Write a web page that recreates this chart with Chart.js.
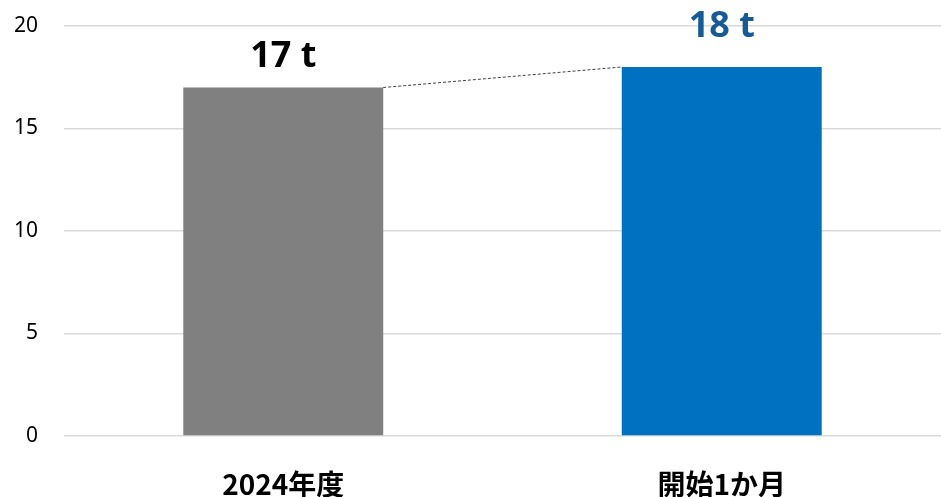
<!DOCTYPE html>
<html>
<head>
<meta charset="utf-8">
<script src="https://cdn.jsdelivr.net/npm/chart.js@4"></script>
<style>
  html, body { margin: 0; padding: 0; background: #fff; }
  #wrap { width: 941px; height: 497px; }
</style>
</head>
<body>
<div id="wrap"><canvas id="chart"></canvas></div>
<script>
// chart data
const categories = ['2024年度', '開始1か月'];
const values = [17, 18];
const valueLabels = ['17 t', '18 t'];
const barColors = ['#808080', '#0070C0'];
const labelColors = ['#000000', '#165A96'];
const yTicks = [0, 5, 10, 15, 20];

// value labels above bars + dotted connector between bar tops
const barDecor = {
    id: 'barDecor',
    afterDatasetsDraw(chart) {
        const ctx = chart.ctx;
        const bars = chart.getDatasetMeta(0).data;
        const gaps = [21, 30];
        ctx.save();

        // connector line
        const a = bars[0], b = bars[1];
        ctx.strokeStyle = '#404040';
        ctx.lineWidth = 1;
        ctx.setLineDash([3, 2]);
        ctx.beginPath();
        ctx.moveTo(a.x + a.width / 2, a.y);
        ctx.lineTo(b.x - b.width / 2, b.y);
        ctx.stroke();
        ctx.setLineDash([]);

        // labels
        ctx.font = 'bold 36px "Noto Sans", sans-serif';
        ctx.textAlign = 'center';
        ctx.textBaseline = 'alphabetic';
        bars.forEach((bar, i) => {
            ctx.fillStyle = labelColors[i];
            ctx.fillText(valueLabels[i], bar.x, bar.y - gaps[i]);
        });
        ctx.restore();
    }
};

new Chart(document.getElementById('chart'), {
    type: 'bar',
    data: {
        labels: categories,
        datasets: [{
            data: values,
            backgroundColor: barColors,
            categoryPercentage: 1,
            barPercentage: 0.456
        }]
    },
    options: {
        responsive: true,
        maintainAspectRatio: false,
        animation: false,
        layout: { padding: { top: 26, right: 0, bottom: 0, left: 0 } },
        plugins: {
            legend: { display: false },
            tooltip: { enabled: false }
        },
        scales: {
            x: {
                grid: { display: false },
                border: { display: false },
                ticks: {
                    color: '#000',
                    padding: 24,
                    font: { family: '"Noto Sans CJK JP", sans-serif', size: 28, weight: 'bold' }
                },
                afterFit: s => { s.height = 61; }
            },
            y: {
                min: 0,
                max: 20,
                afterBuildTicks: s => { s.ticks = yTicks.map(v => ({ value: v })); },
                grid: { color: '#d9d9d9', lineWidth: 1.5, drawTicks: false },
                border: { display: false },
                ticks: {
                    color: '#000',
                    padding: 26,
                    font: { family: '"Noto Sans", sans-serif', size: 21 }
                },
                afterFit: s => {
                    s.width = 64;
                    s.paddingTop = 0;
                    s.paddingBottom = 0;
                }
            }
        }
    },
    plugins: [barDecor]
});
</script>
</body>
</html>
